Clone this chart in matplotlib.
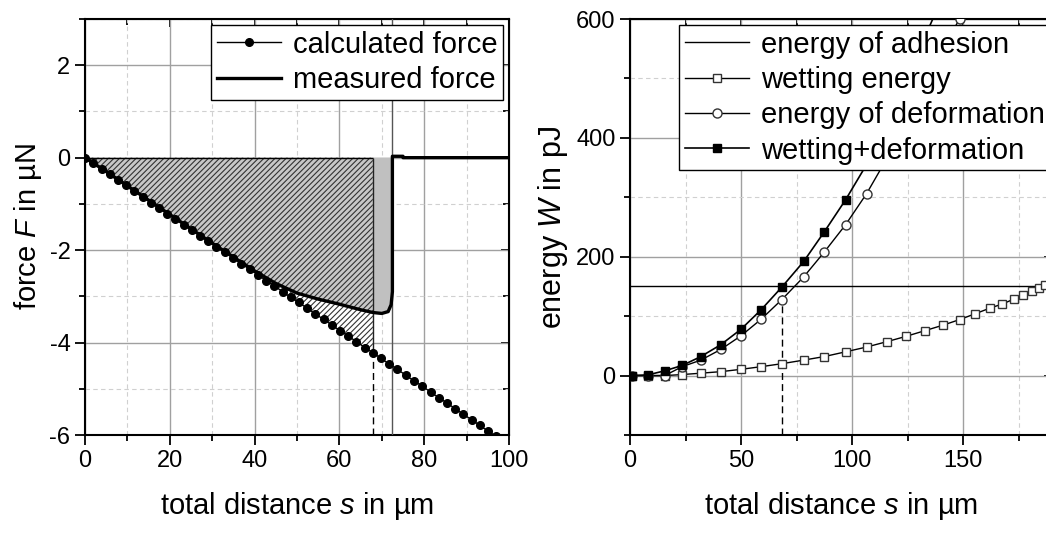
import numpy as np
import matplotlib
matplotlib.use('Agg')
import matplotlib.pyplot as plt
from matplotlib.ticker import MultipleLocator, NullFormatter

plt.rcParams['font.family'] = ['Liberation Sans', 'DejaVu Sans']
plt.rcParams['mathtext.fontset'] = 'custom'
plt.rcParams['mathtext.it'] = 'Liberation Sans:italic'
plt.rcParams['mathtext.rm'] = 'Liberation Sans'
plt.rcParams['axes.unicode_minus'] = False
plt.rcParams['hatch.color'] = '#333333'
plt.rcParams['hatch.linewidth'] = 0.8

# ---- left panel: force vs distance ----
s_calc = [0.0, 1.9, 3.9, 5.8, 7.8, 9.7, 11.6, 13.6, 15.5, 17.5, 19.4, 21.3, 23.3, 25.2,
          27.2, 29.1, 31.0, 33.0, 34.9, 36.9, 38.8, 40.7, 42.7, 44.6, 46.6, 48.5, 50.4,
          52.4, 54.3, 56.3, 58.2, 60.1, 62.1, 64.0, 66.0, 67.9, 69.8, 71.8, 73.7, 75.7,
          77.6, 79.5, 81.5, 83.4, 85.4, 87.3, 89.2, 91.2, 93.1, 95.1, 97.0]
F_calc = [0.0, -0.12, -0.24, -0.36, -0.49, -0.60, -0.72, -0.85, -0.97, -1.09, -1.21,
          -1.32, -1.45, -1.57, -1.69, -1.81, -1.93, -2.05, -2.17, -2.30, -2.41, -2.53,
          -2.66, -2.77, -2.90, -3.02, -3.13, -3.26, -3.38, -3.50, -3.62, -3.74, -3.86,
          -3.98, -4.11, -4.22, -4.34, -4.47, -4.58, -4.71, -4.83, -4.94, -5.07, -5.19,
          -5.31, -5.43, -5.55, -5.67, -5.79, -5.92, -6.03]

s_meas = [0, 5, 10, 15, 20, 25, 30, 35, 40, 45, 50, 55, 60, 65, 67.9, 70, 71.5, 72.2,
          72.5, 72.5, 75, 75, 100]
F_meas = [0, -0.30, -0.61, -0.92, -1.23, -1.54, -1.85, -2.15, -2.45, -2.72, -2.93,
          -3.06, -3.17, -3.29, -3.35, -3.37, -3.33, -3.18, -2.90, 0.03, 0.03, 0, 0]

s_cut = 67.9     # end of hatched area
s_detach = 72.5  # detachment

# ---- right panel: energies ----
s_en = [0.75, 7.9, 15.6, 23.5, 31.9, 40.9, 50.0, 59.1, 68.4, 78.2, 87.5, 97.1, 106.5,
        115.6, 124.3, 132.8, 141.0, 148.4, 155.4, 162.0, 167.7, 172.9, 177.1, 181.2,
        184.2, 187.0]
W_wet = [0, 0, 0, 1.7, 4, 6.6, 10.5, 15, 20, 26, 32, 40, 48, 57, 66, 75.6, 84.9, 94.2,
         104, 113.4, 120.5, 128.8, 135.9, 142.5, 148, 152]
W_def = [0, 0, 0, 15, 26, 44, 67, 95, 128, 166, 208, 254, 306, 365, 428, 492, 552, 600, 660]
W_sum = [0, 1, 8, 17, 32, 52, 78, 111, 149, 192, 242, 296, 355, 422, 494, 570, 640]
W_adh = 150
s_eq = 68.4

fig = plt.figure(figsize=(10.46, 5.34), dpi=100)
ax1 = fig.add_axes([85/1046, 99/534, 424/1046, 416/534])
ax2 = fig.add_axes([630/1046, 99/534, 422/1046, 416/534])

i_cut = s_meas.index(s_cut)
i_det = s_meas.index(s_detach)
j_cut = s_calc.index(s_cut)

# hatched area between measured and calculated
px = np.concatenate([s_meas[:i_cut+1], s_calc[:j_cut+1][::-1]])
py = np.concatenate([F_meas[:i_cut+1], F_calc[:j_cut+1][::-1]])
ax1.fill(px, py, facecolor='white', hatch='//////', edgecolor='#333333', linewidth=0, zorder=1)
# hatched grey area under measured curve
ax1.fill_between(s_meas[:i_cut+1], F_meas[:i_cut+1], 0, facecolor='#c8c8c8',
                 hatch='//////', edgecolor='#333333', linewidth=0, zorder=2)
# solid grey part
ax1.fill_between(s_meas[i_cut:i_det+2], F_meas[i_cut:i_det+2], 0, facecolor='#c0c0c0',
                 linewidth=0, zorder=2)
ax1.hlines(0, 0, s_cut, color='k', lw=1, zorder=3)
ax1.vlines(s_cut, F_calc[j_cut], 0, color='#222222', lw=1, zorder=3)
ax1.vlines(s_cut, -6, F_calc[j_cut], color='k', lw=1, ls=(0, (5, 3)), zorder=3)
ax1.axvline(s_detach, color='#555555', lw=1, zorder=3)

ax1.plot(s_calc, F_calc, 'k-', lw=1, marker='o', ms=5.5, zorder=4, label='calculated force')
ax1.plot(s_meas, F_meas, 'k-', lw=2.4, zorder=5, label='measured force')

ax1.set_xlim(0, 100)
ax1.set_ylim(-6, 3)
ax1.xaxis.set_major_locator(MultipleLocator(20))
ax1.xaxis.set_minor_locator(MultipleLocator(10))
ax1.yaxis.set_major_locator(MultipleLocator(2))
ax1.yaxis.set_minor_locator(MultipleLocator(1))
ax1.set_xlabel('total distance $s$ in µm', fontsize=21, labelpad=13)
ax1.set_ylabel('force $F$ in µN', fontsize=21, labelpad=4)

ax2.axhline(W_adh, color='k', lw=1, zorder=3, label='energy of adhesion')
ax2.plot(s_en, W_wet, 'k-', lw=1, marker='s', ms=6, mfc='white', mec='#333333', zorder=4,
         label='wetting energy')
ax2.plot(s_en[:len(W_def)], W_def, 'k-', lw=1, marker='o', ms=6.5, mfc='white',
         mec='#333333', zorder=4, label='energy of deformation')
ax2.plot(s_en[:len(W_sum)], W_sum, 'k-', lw=1.2, marker='s', ms=6, mfc='k', mec='k',
         zorder=4, label='wetting+deformation')
ax2.vlines(s_eq, -100, W_adh, color='k', lw=1, ls=(0, (5, 3)), zorder=3)

ax2.set_xlim(0, 190)
ax2.set_ylim(-100, 600)
ax2.xaxis.set_major_locator(MultipleLocator(50))
ax2.xaxis.set_minor_locator(MultipleLocator(25))
ax2.yaxis.set_major_locator(MultipleLocator(200))
ax2.yaxis.set_minor_locator(MultipleLocator(100))
ax2.set_xlabel('total distance $s$ in µm', fontsize=21, labelpad=13)
ax2.set_ylabel('energy $W$ in pJ', fontsize=22, labelpad=4)

for ax, anchor in ((ax1, (1.0, 1.0)), (ax2, (1.011, 1.0))):
    ax.set_axisbelow(True)
    ax.grid(which='major', color='#a0a0a0', lw=1)
    ax.grid(which='minor', color='#d0d0d0', lw=0.8, ls=(0, (4, 3)))
    for sp in ax.spines.values():
        sp.set_linewidth(1.5)
    ax.tick_params(which='both', direction='out', top=False, right=False,
                   labelsize=17, width=1.3)
    ax.tick_params(which='major', length=7)
    ax.tick_params(which='minor', length=4)
    sx = ax.secondary_xaxis('top')
    sx.xaxis.set_major_locator(ax.xaxis.get_major_locator())
    sx.xaxis.set_minor_locator(ax.xaxis.get_minor_locator())
    sx.xaxis.set_major_formatter(NullFormatter())
    sx.tick_params(which='both', direction='in', width=1.3)
    sx.tick_params(which='major', length=6)
    sx.tick_params(which='minor', length=4)
    sy = ax.secondary_yaxis('right')
    sy.yaxis.set_major_locator(ax.yaxis.get_major_locator())
    sy.yaxis.set_minor_locator(ax.yaxis.get_minor_locator())
    sy.yaxis.set_major_formatter(NullFormatter())
    sy.tick_params(which='both', direction='in', width=1.3)
    sy.tick_params(which='major', length=6)
    sy.tick_params(which='minor', length=4)
    leg = ax.legend(loc='upper right', bbox_to_anchor=anchor, fontsize=21, fancybox=False,
                    edgecolor='black', framealpha=1, borderaxespad=0.2, handlelength=2.2,
                    labelspacing=0.25, borderpad=0.2, handletextpad=0.4)
    leg.get_frame().set_linewidth(1)
    leg.set_zorder(10)

fig.savefig('out.png', dpi=100)
